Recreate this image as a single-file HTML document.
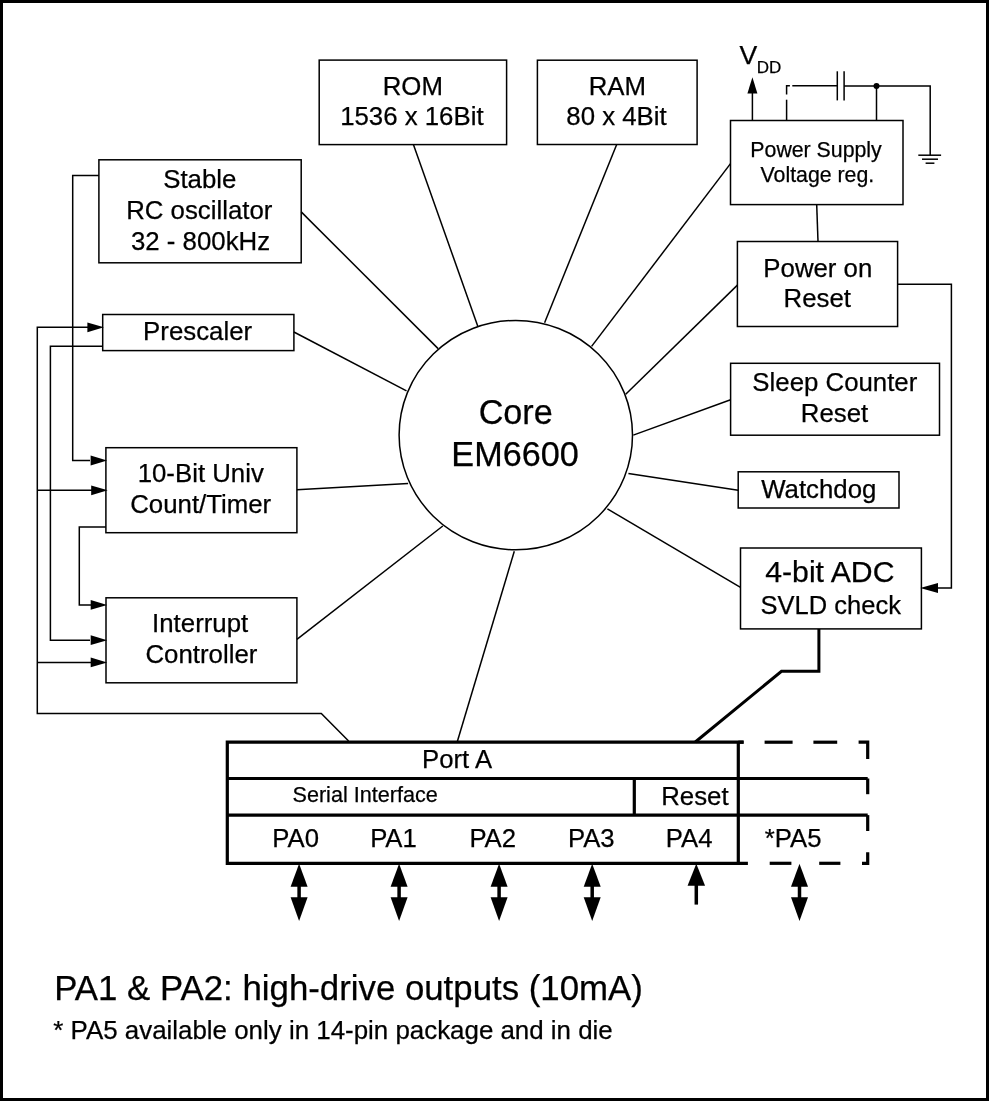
<!DOCTYPE html>
<html><head><meta charset="utf-8"><style>
html,body{margin:0;padding:0;background:#fff;}
body{width:989px;height:1101px;overflow:hidden;position:relative;}
svg{position:absolute;left:0;top:0;will-change:transform;}
text{font-family:"Liberation Sans",sans-serif;fill:#000;stroke:#000;stroke-width:0.25px;}
</style></head><body>
<svg width="989" height="1101" viewBox="0 0 989 1101">
<rect x="1.5" y="1.5" width="986" height="1098" fill="#fff" stroke="#000" stroke-width="3"/>
<rect x="319.2" y="60.1" width="187.40" height="84.50" fill="none" stroke="#000" stroke-width="1.5"/>
<text x="382.70" y="95.00" font-size="25.8">ROM</text>
<text x="340.14" y="125.40" font-size="25.8">1536 x 16Bit</text>
<rect x="537.4" y="60.2" width="159.70" height="84.30" fill="none" stroke="#000" stroke-width="1.5"/>
<text x="588.68" y="95.00" font-size="25.8">RAM</text>
<text x="566.29" y="125.30" font-size="25.8">80 x 4Bit</text>
<rect x="730.5" y="120.5" width="172.50" height="84.10" fill="none" stroke="#000" stroke-width="1.5"/>
<text x="750.34" y="156.50" font-size="21.3">Power Supply</text>
<text x="760.54" y="181.80" font-size="21.3">Voltage reg.</text>
<rect x="98.9" y="159.8" width="202.30" height="103.00" fill="none" stroke="#000" stroke-width="1.5"/>
<text x="163.26" y="188.20" font-size="25.8">Stable</text>
<text x="126.14" y="219.20" font-size="25.8">RC oscillator</text>
<text x="131.00" y="249.70" font-size="25.8">32 - 800kHz</text>
<rect x="102.7" y="314.5" width="191.20" height="36.10" fill="none" stroke="#000" stroke-width="1.5"/>
<text x="143.12" y="340.10" font-size="25.8">Prescaler</text>
<rect x="105.9" y="447.7" width="191.00" height="85.00" fill="none" stroke="#000" stroke-width="1.5"/>
<text x="137.67" y="482.40" font-size="25.8">10-Bit Univ</text>
<text x="130.24" y="512.70" font-size="25.8">Count/Timer</text>
<rect x="106.0" y="597.8" width="190.90" height="85.00" fill="none" stroke="#000" stroke-width="1.5"/>
<text x="152.12" y="631.70" font-size="25.8">Interrupt</text>
<text x="145.49" y="663.00" font-size="25.8">Controller</text>
<rect x="737.4" y="241.5" width="160.20" height="85.00" fill="none" stroke="#000" stroke-width="1.5"/>
<text x="763.33" y="276.60" font-size="25.8">Power on</text>
<text x="783.54" y="306.90" font-size="25.8">Reset</text>
<rect x="730.6" y="363.3" width="208.90" height="71.90" fill="none" stroke="#000" stroke-width="1.5"/>
<text x="752.36" y="391.30" font-size="25.8">Sleep Counter</text>
<text x="800.84" y="421.90" font-size="25.8">Reset</text>
<rect x="738.2" y="471.8" width="160.80" height="36.20" fill="none" stroke="#000" stroke-width="1.5"/>
<text x="761.19" y="497.60" font-size="25.8">Watchdog</text>
<rect x="740.5" y="548" width="180.90" height="80.90" fill="none" stroke="#000" stroke-width="1.5"/>
<text x="765.28" y="582.00" font-size="30.2">4-bit ADC</text>
<text x="760.60" y="613.70" font-size="25.5">SVLD check</text>
<ellipse cx="515.8" cy="435.1" rx="116.7" ry="114.7" fill="none" stroke="#000" stroke-width="1.5"/>
<text x="478.63" y="424.20" font-size="34.2">Core</text>
<text x="451.37" y="465.70" font-size="34.2">EM6600</text>
<path d="M301.2,211.9 L438.1,348.6" fill="none" stroke="#000" stroke-width="1.5" stroke-linejoin="miter" />
<path d="M413.4,144.6 L477.7,325.9" fill="none" stroke="#000" stroke-width="1.5" stroke-linejoin="miter" />
<path d="M616.7,144.5 L544.6,322.7" fill="none" stroke="#000" stroke-width="1.5" stroke-linejoin="miter" />
<path d="M730.5,163.6 L591.6,346.4" fill="none" stroke="#000" stroke-width="1.5" stroke-linejoin="miter" />
<path d="M737.4,285.1 L625.7,394.2" fill="none" stroke="#000" stroke-width="1.5" stroke-linejoin="miter" />
<path d="M730.6,399.8 L633.3,435.1" fill="none" stroke="#000" stroke-width="1.5" stroke-linejoin="miter" />
<path d="M738.2,490.2 L628.4,473.4" fill="none" stroke="#000" stroke-width="1.5" stroke-linejoin="miter" />
<path d="M740.5,587.3 L607.4,508.8" fill="none" stroke="#000" stroke-width="1.5" stroke-linejoin="miter" />
<path d="M457.2,742 L514.3,551.2" fill="none" stroke="#000" stroke-width="1.5" stroke-linejoin="miter" />
<path d="M296.9,639.3 L442.8,526" fill="none" stroke="#000" stroke-width="1.5" stroke-linejoin="miter" />
<path d="M296.9,489.8 L408.1,483.5" fill="none" stroke="#000" stroke-width="1.5" stroke-linejoin="miter" />
<path d="M293.9,332 L406.5,390.9" fill="none" stroke="#000" stroke-width="1.5" stroke-linejoin="miter" />
<path d="M98.9,175.6 L72.7,175.6 L72.7,460.5 L90,460.5" fill="none" stroke="#000" stroke-width="1.5" stroke-linejoin="miter" />
<path d="M107.10000000000001,460.5 L90.60000000000001,455.6 L90.60000000000001,465.4 Z" fill="#000"/>
<path d="M102.7,346.2 L50.4,346.2 L50.4,640.2 L90,640.2" fill="none" stroke="#000" stroke-width="1.5" stroke-linejoin="miter" />
<path d="M107.2,640.2 L90.7,635.3000000000001 L90.7,645.1 Z" fill="#000"/>
<path d="M90,327.3 L37.3,327.3 L37.3,713.5 L321.3,713.5 L348.6,741" fill="none" stroke="#000" stroke-width="1.5" stroke-linejoin="miter" />
<path d="M103.9,327.3 L87.4,322.40000000000003 L87.4,332.2 Z" fill="#000"/>
<path d="M37.3,490.3 L92,490.3" fill="none" stroke="#000" stroke-width="1.5" stroke-linejoin="miter" />
<path d="M107.7,490.3 L91.2,485.40000000000003 L91.2,495.2 Z" fill="#000"/>
<path d="M37.3,662.4 L92,662.4" fill="none" stroke="#000" stroke-width="1.5" stroke-linejoin="miter" />
<path d="M107.2,662.4 L90.7,657.5 L90.7,667.3 Z" fill="#000"/>
<path d="M105.9,527 L79.3,527 L79.3,604.9 L92,604.9" fill="none" stroke="#000" stroke-width="1.5" stroke-linejoin="miter" />
<path d="M107.2,604.9 L90.7,600.0 L90.7,609.8 Z" fill="#000"/>
<path d="M897.6,284.3 L951.4,284.3 L951.4,587.9 L935,587.9" fill="none" stroke="#000" stroke-width="1.5" stroke-linejoin="miter" />
<path d="M920.1999999999999,587.9 L937.9999999999999,582.9 L937.9999999999999,592.9 Z" fill="#000"/>
<path d="M816.7,204.6 L818,241.5" fill="none" stroke="#000" stroke-width="1.5" stroke-linejoin="miter" />
<path d="M818.9,628.9 L818.9,671.3 L781.5,671.3 L695.3,742" fill="none" stroke="#000" stroke-width="3" stroke-linejoin="miter" />
<path d="M752.4,120.5 L752.4,92" fill="none" stroke="#000" stroke-width="1.5" stroke-linejoin="miter" />
<path d="M752.4,77.3 L747.4,93.4 L757.4,93.4 Z" fill="#000"/>
<text x="739.58" y="63.80" font-size="26.6">V</text>
<text x="756.81" y="72.60" font-size="17">DD</text>
<path d="M786.6,120.5 L786.6,99.7" fill="none" stroke="#000" stroke-width="1.5" stroke-linejoin="miter" />
<path d="M786.6,94.5 L786.6,85.8 L789.9,85.8" fill="none" stroke="#000" stroke-width="1.5" stroke-linejoin="miter" />
<path d="M792.3,85.8 L837.3,85.8" fill="none" stroke="#000" stroke-width="1.5" stroke-linejoin="miter" />
<path d="M844.1,86 L930.2,86 L930.2,155.2" fill="none" stroke="#000" stroke-width="1.5" stroke-linejoin="miter" />
<path d="M837.3,71.3 L837.3,100.4" fill="none" stroke="#000" stroke-width="1.5" stroke-linejoin="miter" />
<path d="M844.1,71.3 L844.1,100.4" fill="none" stroke="#000" stroke-width="1.5" stroke-linejoin="miter" />
<circle cx="876.5" cy="86" r="3" fill="#000"/>
<path d="M876.5,86 L876.5,120.5" fill="none" stroke="#000" stroke-width="1.5" stroke-linejoin="miter" />
<path d="M918.3,155.2 L941.1,155.2" fill="none" stroke="#000" stroke-width="1.5" stroke-linejoin="miter" />
<path d="M922,159.2 L938,159.2" fill="none" stroke="#000" stroke-width="1.5" stroke-linejoin="miter" />
<path d="M925.6,163.2 L934.4,163.2" fill="none" stroke="#000" stroke-width="1.5" stroke-linejoin="miter" />
<path d="M743.6,742.2 L227.3,742.2 L227.3,863.3 L747.9,863.3" fill="none" stroke="#000" stroke-width="3.2" stroke-linejoin="miter" />
<path d="M227.3,778.5 L867.7,778.5" fill="none" stroke="#000" stroke-width="3.2" stroke-linejoin="miter" />
<path d="M227.3,815.1 L867.7,815.1" fill="none" stroke="#000" stroke-width="3.2" stroke-linejoin="miter" />
<path d="M738.3,742.2 L738.3,863.3" fill="none" stroke="#000" stroke-width="3.2" stroke-linejoin="miter" />
<path d="M634.3,778.5 L634.3,815.1" fill="none" stroke="#000" stroke-width="3.2" stroke-linejoin="miter" />
<path d="M738.3,742.2 L743.6,742.2" fill="none" stroke="#000" stroke-width="3.2" stroke-linejoin="miter" />
<path d="M764.6,742.2 L792.6,742.2" fill="none" stroke="#000" stroke-width="3.2" stroke-linejoin="miter" />
<path d="M813.4,742.2 L837.2,742.2" fill="none" stroke="#000" stroke-width="3.2" stroke-linejoin="miter" />
<path d="M858.6,742.2 L867.7,742.2 L867.7,759" fill="none" stroke="#000" stroke-width="3.2" stroke-linejoin="miter" />
<path d="M867.7,778.5 L867.7,794.2" fill="none" stroke="#000" stroke-width="3.2" stroke-linejoin="miter" />
<path d="M867.7,815.1 L867.7,831" fill="none" stroke="#000" stroke-width="3.2" stroke-linejoin="miter" />
<path d="M867.7,852.3 L867.7,863.3 L862,863.3" fill="none" stroke="#000" stroke-width="3.2" stroke-linejoin="miter" />
<path d="M769.7,863.3 L791.4,863.3" fill="none" stroke="#000" stroke-width="3.2" stroke-linejoin="miter" />
<path d="M819.2,863.3 L840.4,863.3" fill="none" stroke="#000" stroke-width="3.2" stroke-linejoin="miter" />
<text x="422.11" y="768.40" font-size="25.7">Port A</text>
<text x="292.50" y="801.80" font-size="21.6">Serial Interface</text>
<text x="661.19" y="805.40" font-size="25.8">Reset</text>
<text x="272.36" y="846.70" font-size="25.7">PA0</text>
<text x="370.14" y="846.70" font-size="25.7">PA1</text>
<text x="469.40" y="846.70" font-size="25.7">PA2</text>
<text x="567.97" y="846.70" font-size="25.7">PA3</text>
<text x="665.83" y="846.70" font-size="25.7">PA4</text>
<text x="764.79" y="846.70" font-size="25.7">*PA5</text>
<path d="M299.1,863.8 L290.6,886.8 L307.6,886.8 Z" fill="#000"/>
<path d="M299.1,886 L299.1,898" fill="none" stroke="#000" stroke-width="3.5" stroke-linejoin="miter" />
<path d="M299.1,921 L290.6,897.2 L307.6,897.2 Z" fill="#000"/>
<path d="M399.1,863.8 L390.6,886.8 L407.6,886.8 Z" fill="#000"/>
<path d="M399.1,886 L399.1,898" fill="none" stroke="#000" stroke-width="3.5" stroke-linejoin="miter" />
<path d="M399.1,921 L390.6,897.2 L407.6,897.2 Z" fill="#000"/>
<path d="M499.1,863.8 L490.6,886.8 L507.6,886.8 Z" fill="#000"/>
<path d="M499.1,886 L499.1,898" fill="none" stroke="#000" stroke-width="3.5" stroke-linejoin="miter" />
<path d="M499.1,921 L490.6,897.2 L507.6,897.2 Z" fill="#000"/>
<path d="M592.2,863.8 L583.7,886.8 L600.7,886.8 Z" fill="#000"/>
<path d="M592.2,886 L592.2,898" fill="none" stroke="#000" stroke-width="3.5" stroke-linejoin="miter" />
<path d="M592.2,921 L583.7,897.2 L600.7,897.2 Z" fill="#000"/>
<path d="M799.5,863.8 L791.0,886.8 L808.0,886.8 Z" fill="#000"/>
<path d="M799.5,886 L799.5,898" fill="none" stroke="#000" stroke-width="3.5" stroke-linejoin="miter" />
<path d="M799.5,921 L791.0,897.2 L808.0,897.2 Z" fill="#000"/>
<path d="M696.3,863.8 L687.55,885.8 L705.05,885.8 Z" fill="#000"/>
<path d="M696.3,885 L696.3,904.6" fill="none" stroke="#000" stroke-width="3.5" stroke-linejoin="miter" />
<text x="54.19" y="1000.00" font-size="34.8">PA1 &amp; PA2: high-drive outputs (10mA)</text>
<text x="53.34" y="1038.90" font-size="25.9">* PA5 available only in 14-pin package and in die</text>
</svg>
</body></html>
